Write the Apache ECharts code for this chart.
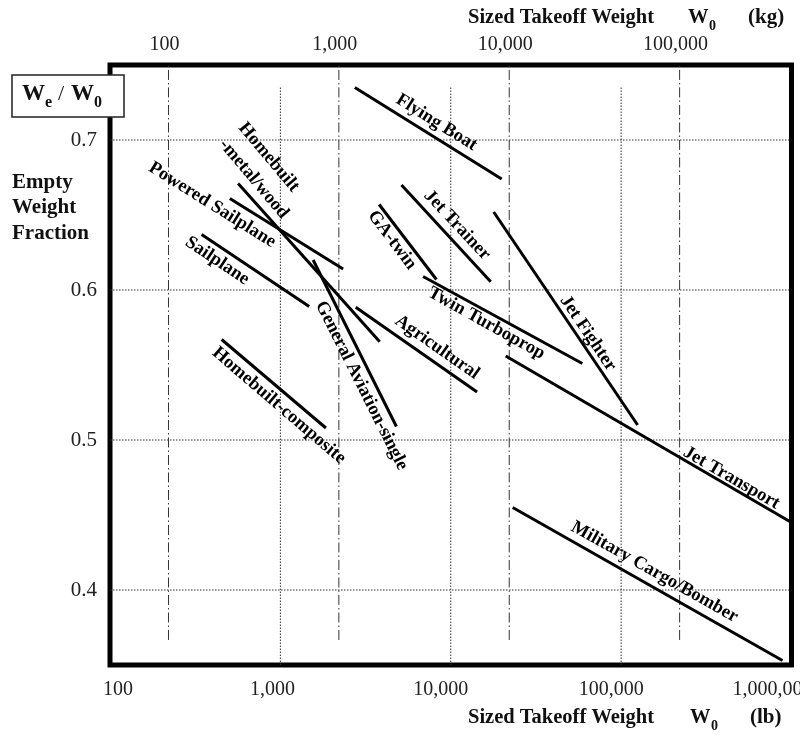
<!DOCTYPE html>
<html><head><meta charset="utf-8">
<script src="https://cdn.jsdelivr.net/npm/echarts@6/dist/echarts.min.js"></script>
<style>html,body{margin:0;padding:0;background:#fff}#c{width:800px;height:735px}</style>
</head><body><div id="c"></div>
<script>
// ---------- data ----------
const LB_PER_KG = 2.20462;
const xTicksLb = [100, 1000, 10000, 100000, 1000000];
const xTicksKg = [100, 1000, 10000, 100000];
const yTicks = [0.4, 0.5, 0.6, 0.7];

const categories = ['Flying Boat', 'Jet Trainer', 'GA-twin', 'Twin Turboprop', 'Jet Fighter',
  'Jet Transport', 'Military Cargo/Bomber', 'Agricultural', 'General Aviation-single',
  'Homebuilt metal/wood', 'Powered Sailplane', 'Sailplane', 'Homebuilt-composite'];
// takeoff weight W0 (lb) at start / end of each trend line
const w0Start = [2735, 5140, 3800, 6880, 17870, 21020, 23100, 2770, 1557, 565, 505, 345, 452];
const w0End   = [19900, 17170, 8240, 59200, 125000, 1000000, 885000, 14270, 4800, 3830, 2335, 1476, 1850];
// empty weight fraction We/W0 at start / end
const feStart = [0.735, 0.670, 0.657, 0.609, 0.652, 0.556, 0.455, 0.5885, 0.620, 0.671, 0.661, 0.637, 0.567];
const feEnd   = [0.674, 0.6055, 0.607, 0.551, 0.510, 0.445, 0.353, 0.532, 0.509, 0.5655, 0.614, 0.589, 0.508];

// annotation texts and their anchor (data coords) + angle
const labelText  = ['Flying Boat', 'Jet Trainer', 'GA-twin', 'Twin Turboprop', 'Jet Fighter',
  'Jet Transport', 'Military Cargo/Bomber', 'Agricultural', 'General Aviation-single',
  'Homebuilt', '-metal/wood', 'Powered Sailplane', 'Sailplane', 'Homebuilt-composite'];
const labelW0    = [8245, 10890, 4527, 16200, 63880, 444600, 157200, 8310, 2994, 856, 699, 398, 426, 980];
const labelFe    = [0.7117, 0.6433, 0.6333, 0.5778, 0.5711, 0.4747, 0.412, 0.5618, 0.5362, 0.6885, 0.674, 0.6567, 0.6195, 0.5229];
const labelAngle = [-32, -47, -53, -29, -56, -30, -29.4, -35, -63.4, -50, -50, -32, -33.7, -40.6];

// ---------- chart ----------
const SERIF = "'Liberation Serif', 'Times New Roman', serif";
const chart = echarts.init(document.getElementById('c'), null, {renderer: 'canvas'});
const fmtNum = v => Math.round(v).toLocaleString('en-US');
const isPow10 = v => { const l = Math.log10(v); return Math.abs(l - Math.round(l)) < 1e-6; };

// small horizontal nudges of tick labels (as in the printed figure)
const lbLabelStyle = {'100': 'r8', '1,000': 'l8', '10,000': 'l10', '100,000': 'l10', '1,000,000': 'l19'};
const nudge = (key) => {
  const s = +key.slice(1) * 2;
  return key[0] === 'r' ? {padding: [0, 0, 0, s]} : {padding: [0, s, 0, 0]};
};
const tickFont = {fontFamily: SERIF, fontSize: 20, color: '#222'};
const richLb = {};
Object.values(lbLabelStyle).forEach(k => { richLb[k] = Object.assign({}, tickFont, nudge(k)); });

const series = [];
// horizontal dotted grid lines
yTicks.forEach(y => series.push({
  type: 'line', silent: true, symbol: 'none', xAxisIndex: 0, z: 1,
  data: [[xTicksLb[0], y], [xTicksLb[xTicksLb.length - 1], y]],
  lineStyle: {color: '#333', width: 1, type: [1.5, 1.5]}
}));
// vertical dotted grid lines (lb decades)
xTicksLb.slice(1, -1).forEach(x => series.push({
  type: 'line', silent: true, symbol: 'none', xAxisIndex: 0, z: 1,
  data: [[x, 0.35], [x, 0.7353]],
  lineStyle: {color: '#333', width: 1, type: [1.5, 1.5]}
}));
// vertical dash-dot grid lines (kg decades)
xTicksKg.forEach(k => series.push({
  type: 'line', silent: true, symbol: 'none', xAxisIndex: 0, z: 1,
  data: [[k * LB_PER_KG, 0.3667], [k * LB_PER_KG, 0.75]],
  lineStyle: {color: '#333', width: 1, type: [10, 3, 1.5, 3]}
}));
// trend lines
categories.forEach((name, i) => series.push({
  type: 'line', name, silent: true, symbol: 'none', xAxisIndex: 0, z: 3,
  data: [[w0Start[i], feStart[i]], [w0End[i], feEnd[i]]],
  lineStyle: {color: '#000', width: 3}
}));
// rotated annotations
series.push({
  type: 'scatter', silent: true, symbolSize: 0, xAxisIndex: 0, z: 4,
  itemStyle: {opacity: 1},
  data: labelText.map((t, i) => ({
    name: t, value: [labelW0[i], labelFe[i]],
    label: {rotate: labelAngle[i]}
  })),
  label: {
    show: true, position: 'inside', formatter: p => p.name, opacity: 1,
    align: 'center', verticalAlign: 'middle', textBorderWidth: 0,
    fontFamily: SERIF, fontWeight: 'bold', fontSize: 18.5, color: '#000'
  }
});

const txt = (x, y, text, size, opts) => Object.assign({
  type: 'text', x, y,
  style: Object.assign({text, fontFamily: SERIF, fontWeight: 'bold', fontSize: size, fill: '#111',
    verticalAlign: 'middle'}, (opts || {}))
});

chart.setOption({
  backgroundColor: '#fff',
  animation: false,
  grid: {left: 110, right: 8.5, top: 65, bottom: 70, show: true, borderColor: '#000', borderWidth: 5,
    backgroundColor: 'transparent', containLabel: false, outerBoundsMode: 'none'},
  xAxis: [
    {type: 'log', logBase: 10, min: 100, max: 1000000, position: 'bottom',
      axisLine: {show: false}, axisTick: {show: false}, splitLine: {show: false},
      axisLabel: {formatter: v => { if (!isPow10(v)) return ''; const s = fmtNum(v); return '{' + lbLabelStyle[s] + '|' + s + '}'; },
        rich: richLb, fontFamily: SERIF, fontSize: 20, color: '#222', margin: 15}},
    {type: 'log', logBase: 10, min: 100 / LB_PER_KG, max: 1000000 / LB_PER_KG, position: 'top',
      axisLine: {show: false}, axisTick: {show: false}, splitLine: {show: false},
      axisLabel: {formatter: v => isPow10(v) ? fmtNum(v) : '', fontFamily: SERIF, fontSize: 20, color: '#222', margin: 10,
        padding: [0, 8, 0, 0], showMinLabel: false, showMaxLabel: false}}
  ],
  yAxis: {type: 'value', min: 0.35, max: 0.75, interval: 0.05,
    axisLine: {show: false}, axisTick: {show: false}, splitLine: {show: false},
    axisLabel: {formatter: v => yTicks.some(t => Math.abs(t - v) < 1e-6) ? v.toFixed(1) : '',
      fontFamily: SERIF, fontSize: 21, color: '#222', margin: 13}},
  series,
  graphic: [
    // top (kg) axis title
    txt(468, 18, 'Sized Takeoff Weight', 20.5),
    txt(688, 18, 'W', 20.5),
    txt(709, 26, '0', 14),
    txt(748, 18, '(kg)', 21),
    // bottom (lb) axis title
    txt(468, 718, 'Sized Takeoff Weight', 20.5),
    txt(690, 718, 'W', 20.5),
    txt(711, 726, '0', 14),
    txt(750, 718, '(lb)', 21),
    // We/W0 box
    {type: 'rect', z: 100, shape: {x: 12, y: 75, width: 112, height: 42},
      style: {fill: '#fff', stroke: '#222', lineWidth: 1.5}},
    Object.assign(txt(22, 94, 'W', 23), {z: 101}),
    Object.assign(txt(45, 103, 'e', 16), {z: 101}),
    Object.assign(txt(58, 94, '/', 22, {fontWeight: 'normal'}), {z: 101}),
    Object.assign(txt(71, 94, 'W', 23), {z: 101}),
    Object.assign(txt(94, 103, '0', 16), {z: 101}),
    // y-axis title
    txt(12, 183, 'Empty', 21),
    txt(12, 208, 'Weight', 21),
    txt(12, 234, 'Fraction', 21)
  ]
});
</script></body></html>
